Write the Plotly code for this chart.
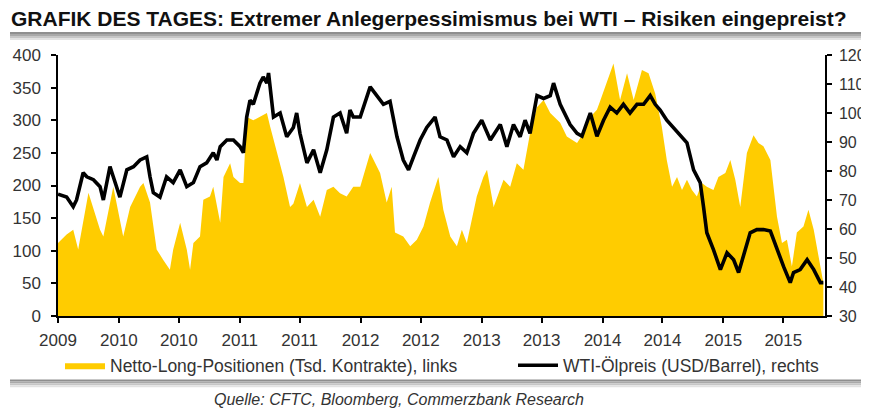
import plotly.graph_objects as go

# ---------------- data ----------------
pos_dates = [
    "2009-08-01", "2009-08-27", "2009-09-16", "2009-10-01", "2009-11-01", "2009-12-06", "2009-12-16",
    "2010-01-15", "2010-02-14", "2010-03-07", "2010-04-06", "2010-04-16", "2010-05-06", "2010-05-26",
    "2010-06-15", "2010-07-05", "2010-07-15", "2010-08-05", "2010-08-25", "2010-09-04", "2010-09-14",
    "2010-10-04", "2010-10-14", "2010-11-03", "2010-11-13", "2010-12-04", "2010-12-14",
    "2011-01-03", "2011-01-13", "2011-02-02", "2011-02-12", "2011-02-22", "2011-03-14", "2011-04-03",
    "2011-04-24", "2011-05-04", "2011-05-24", "2011-06-13", "2011-07-03", "2011-07-13", "2011-08-02",
    "2011-08-23", "2011-09-12", "2011-10-02", "2011-10-22", "2011-11-11", "2011-12-01", "2011-12-21",
    "2012-01-10", "2012-01-31", "2012-03-01", "2012-03-31", "2012-04-20", "2012-05-05", "2012-05-15",
    "2012-06-09", "2012-06-30", "2012-07-20", "2012-08-09", "2012-08-29", "2012-09-23", "2012-10-08",
    "2012-10-29", "2012-11-18", "2012-12-03", "2012-12-18",
    "2013-01-17", "2013-02-06", "2013-02-17", "2013-03-09", "2013-04-08", "2013-04-28", "2013-05-18",
    "2013-06-07", "2013-06-27", "2013-07-18", "2013-08-07", "2013-08-27", "2013-09-26", "2013-10-16",
    "2013-11-16", "2013-12-05", "2013-12-26",
    "2014-01-15", "2014-01-25", "2014-02-14", "2014-03-06", "2014-03-26", "2014-04-16", "2014-05-06",
    "2014-05-31", "2014-06-20", "2014-07-10", "2014-07-30", "2014-08-14", "2014-08-30", "2014-09-14",
    "2014-09-29", "2014-10-14", "2014-10-29", "2014-11-13", "2014-11-28", "2014-12-13",
    "2015-01-02", "2015-01-17", "2015-02-07", "2015-02-22", "2015-03-09", "2015-03-24", "2015-04-13",
    "2015-05-03", "2015-05-18", "2015-06-02", "2015-06-23", "2015-07-13", "2015-07-28", "2015-08-12",
    "2015-08-27", "2015-09-11", "2015-10-01", "2015-10-16", "2015-11-01", "2015-11-16", "2015-11-30",
]
net_long = [
    112, 125, 132, 102, 189, 132, 122,
    198, 122, 167, 198, 204, 174, 102, 86, 71, 102, 143, 102, 71, 112, 122, 178, 183, 198, 143, 213,
    234, 213, 204, 204, 305, 300, 305, 311, 290, 250, 213, 167, 172, 204, 167, 178, 152, 193, 198, 188, 183,
    198, 198, 250, 219, 174, 198, 128, 122, 107, 117, 137, 174, 213, 163, 122, 107, 132, 112,
    183, 213, 224, 167, 209, 198, 234, 224, 280, 320, 331, 311, 296, 275, 265, 280, 305,
    316, 330, 360, 387, 331, 372, 331, 377, 372, 341, 290, 239, 198, 213, 193, 209, 193, 183, 204, 198,
    193, 213, 219, 239, 209, 167, 250, 277, 265, 260, 239, 152, 112, 117, 76, 128, 137, 163, 132, 91, 51,
]

wti_dates = [
    "2009-08-01", "2009-08-27", "2009-09-16", "2009-09-26", "2009-10-16", "2009-10-27", "2009-11-16",
    "2009-12-06", "2009-12-16",
    "2010-01-05", "2010-01-15", "2010-02-04", "2010-02-25", "2010-03-17", "2010-04-06", "2010-04-26",
    "2010-05-06", "2010-05-16", "2010-06-05", "2010-06-25", "2010-07-15", "2010-08-05", "2010-08-25",
    "2010-09-14", "2010-10-04", "2010-10-24", "2010-11-13", "2010-11-24", "2010-12-04", "2010-12-24",
    "2011-01-13", "2011-02-02", "2011-02-12", "2011-02-22", "2011-03-04", "2011-03-14", "2011-04-03",
    "2011-04-13", "2011-04-24", "2011-04-29", "2011-05-14", "2011-06-03", "2011-06-23", "2011-07-13",
    "2011-07-23", "2011-08-02", "2011-08-23", "2011-09-12", "2011-10-02", "2011-10-22", "2011-11-11",
    "2011-12-01", "2011-12-21", "2011-12-31",
    "2012-01-10", "2012-01-31", "2012-03-01", "2012-03-21", "2012-04-10", "2012-04-30", "2012-05-21",
    "2012-06-09", "2012-06-25", "2012-07-10", "2012-07-30", "2012-08-19", "2012-09-13", "2012-09-28",
    "2012-10-19", "2012-11-08", "2012-11-28", "2012-12-18",
    "2013-01-07", "2013-02-01", "2013-02-27", "2013-03-29", "2013-04-18", "2013-05-08", "2013-05-28",
    "2013-06-12", "2013-06-27", "2013-07-18", "2013-08-07", "2013-08-27", "2013-09-06", "2013-09-26",
    "2013-10-26", "2013-11-16", "2013-12-01", "2013-12-26",
    "2014-01-15", "2014-02-04", "2014-02-24", "2014-03-16", "2014-04-05", "2014-04-25", "2014-05-16",
    "2014-06-05", "2014-06-25", "2014-07-10", "2014-07-25", "2014-08-14", "2014-09-03", "2014-09-24",
    "2014-10-14", "2014-11-03", "2014-11-23", "2014-12-03", "2014-12-13",
    "2015-01-02", "2015-01-23", "2015-02-12", "2015-03-04", "2015-03-19", "2015-04-03", "2015-04-23",
    "2015-05-13", "2015-06-02", "2015-06-23", "2015-07-13", "2015-08-02", "2015-08-22", "2015-09-01",
    "2015-09-21", "2015-10-12", "2015-11-01", "2015-11-21", "2015-11-30",
]
wti_price = [
    72, 71, 67.7, 70, 79.4, 78, 77, 74.6, 70,
    81.5, 78, 71, 80.4, 81.5, 83.8, 84.9, 78, 72.5, 71, 78, 76, 80.4, 74.6, 76, 81.5, 82.8, 86.3, 83.8,
    88.4, 90.7,
    90.7, 88.4, 86.3, 98.6, 104.4, 103, 110.3, 112.4, 110.3, 113.8, 98.6, 100, 91.8, 95, 100, 93, 82.8,
    87.3, 79.4, 87.3, 98.6, 100, 93, 101,
    98.6, 98.6, 109, 106, 103, 104, 91.8, 83.8, 80.4, 84.9, 90.7, 95, 98.6, 91.8, 90.7, 84.9, 88.4, 86.3,
    93, 97.5, 90.7, 96, 88.4, 96, 91.8, 97.5, 93, 106, 105, 106, 110.3, 103, 96, 93, 92, 100,
    92, 97.5, 102, 100, 103, 100, 103, 103, 106, 103, 101, 97.5, 95, 92, 89.7, 80.4, 76, 67.7, 58.7,
    52.9, 46, 51.8, 49.4, 45, 50.6, 58.7, 59.8, 59.8, 59.3, 52.9, 47, 41.5, 45, 46, 49.4, 46, 41.5, 41.5,
]

tick_dates = ["2009-08-01", "2010-02-01", "2010-08-01", "2011-02-01", "2011-08-01", "2012-02-01",
              "2012-08-01", "2013-02-01", "2013-08-01", "2014-02-01", "2014-08-01", "2015-02-01",
              "2015-08-01"]
tick_text = ["2009", "2010", "2010", "2011", "2011", "2012", "2012", "2013", "2013", "2014", "2014",
             "2015", "2015"]

title_text = "GRAFIK DES TAGES: Extremer Anlegerpessimismus bei WTI \u2013 Risiken eingepreist?"
name_pos = "Netto-Long-Positionen (Tsd. Kontrakte), links"
name_wti = "WTI-\u00d6lpreis (USD/Barrel), rechts"
source_text = "Quelle: CFTC, Bloomberg, Commerzbank Research"

# ---------------- figure ----------------
FONT = "Liberation Sans, Arial, Helvetica, sans-serif"
YELLOW = "#FFCC00"
TXT = "#333333"

fig = go.Figure()
fig.add_trace(go.Scatter(
    x=pos_dates, y=net_long, name=name_pos, mode="lines",
    line=dict(width=0, color=YELLOW), fill="tozeroy", fillcolor=YELLOW,
    legend="legend", hoverinfo="skip"))
fig.add_trace(go.Scatter(
    x=wti_dates, y=wti_price, name=name_wti, mode="lines", yaxis="y2",
    line=dict(width=3.6, color="#000000"), legend="legend2"))

# The page body adds an 8px margin; size the figure so the plot lands where the reference has it.
OFF = 8
VW, VH = 869, 409                     # reference viewport
W, H = VW - OFF, VH - OFF
PL, PR, PT, PB = 58, 825, 55, 316.5   # plot-area edges in reference pixels
L, R, T, B = PL - OFF, VW - PR, PT - OFF, VH - PB
pw, ph = PR - PL, PB - PT


def px_x(x):
    return (x - PL) / pw


def px_y(y):
    return (PB - y) / ph


def axis_style(size):
    return dict(showline=True, linecolor="#000000", linewidth=1.5, ticks="outside",
                ticklen=5, tickwidth=1.5, tickcolor="#000000", showgrid=False, zeroline=False,
                tickfont=dict(family=FONT, size=size, color=TXT))


fig.update_layout(
    width=W, height=H,
    margin=dict(l=L, r=R, t=T, b=B, autoexpand=False),
    paper_bgcolor="white", plot_bgcolor="white",
    font=dict(family=FONT, color=TXT),
    xaxis=dict(type="date", range=["2009-08-01", "2015-12-05"], tickmode="array",
               tickvals=tick_dates, ticktext=tick_text, ticklabelstandoff=3, **axis_style(17)),
    yaxis=dict(range=[0, 400], tickmode="linear", tick0=0, dtick=50, ticklabelstandoff=7,
               **axis_style(17)),
    yaxis2=dict(range=[30, 120], tickmode="linear", tick0=30, dtick=10, overlaying="y",
                side="right", ticklabelstandoff=4, **axis_style(16)),
    showlegend=True,
    legend=dict(orientation="h", x=px_x(60), xanchor="left", y=px_y(366), yanchor="middle",
                font=dict(family=FONT, size=17.5, color=TXT), itemwidth=40,
                bgcolor="rgba(0,0,0,0)"),
    legend2=dict(orientation="h", x=px_x(513), xanchor="left", y=px_y(366), yanchor="middle",
                 font=dict(family=FONT, size=17.5, color=TXT), itemwidth=40,
                 bgcolor="rgba(0,0,0,0)"),
)

# grey separator bars (title underline and footer line)
bands_top = [(32, 34, "#8f8f8f"), (34, 36, "#a9a9a9"), (36, 38, "#c6c6c6"), (38, 40, "#e2e2e2")]
bands_bot = [(380, 382, "#8f8f8f"), (382, 384, "#a9a9a9"), (384, 386, "#c6c6c6"), (386, 388, "#e2e2e2")]
for y0, y1, c in bands_top + bands_bot:
    fig.add_shape(type="rect", xref="paper", yref="paper", x0=px_x(10), x1=px_x(VW),
                  y0=px_y(y1), y1=px_y(y0), fillcolor=c, line=dict(width=0), layer="above")

fig.add_annotation(text="<b>" + title_text + "</b>", xref="paper", yref="paper",
                   x=px_x(9), y=px_y(18), xanchor="left", yanchor="middle", showarrow=False,
                   font=dict(family=FONT, size=21, color="#111111"))

fig.add_annotation(text="<i>" + source_text + "</i>", xref="paper", yref="paper",
                   x=px_x(399), y=px_y(400), xanchor="center", yanchor="middle", showarrow=False,
                   font=dict(family=FONT, size=16, color=TXT))

fig.write_html("out.html")
